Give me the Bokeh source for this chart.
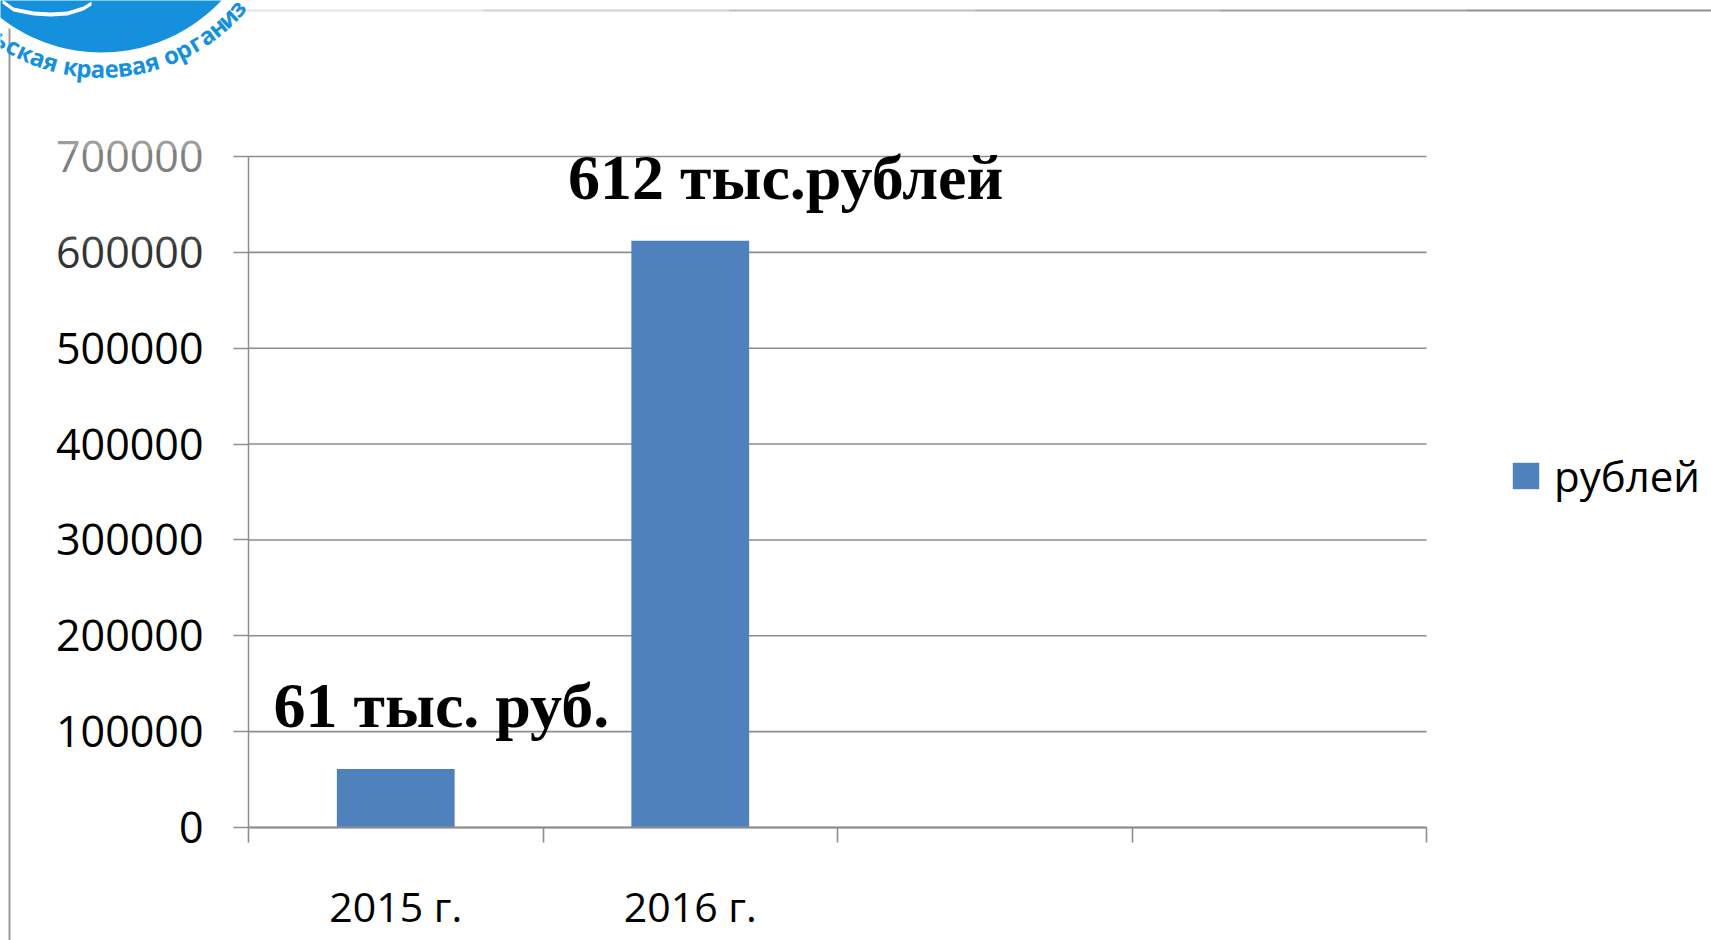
import numpy as np
from bokeh.plotting import figure
from bokeh.models import (FixedTicker, Legend, LegendItem, Label, PolyAnnotation,
                          ColumnDataSource, BasicTickFormatter, Range1d)
from bokeh.core.properties import value
from bokeh.embed import file_html
from bokeh.resources import INLINE

# ---- data ----
categories = ["2015 г.", "2016 г."]
empty_slots = ["", ""]
values = [61000, 612000]
value_labels = ["61 тыс. руб.", "612 тыс.рублей"]
series_name = "рублей"
y_ticks = [0, 100000, 200000, 300000, 400000, 500000, 600000, 700000]
logo_text = "льская краевая организация"

# ---- layout constants (page pixels) ----
W, H = 1711, 940
PX0, PX1 = 248, 1426        # plot area left / right
PY_TOP, PY_ZERO = 156, 827  # plot area top / bottom

BAR_COLOR = "#4F81BD"
GRID = "#8e8e8e"

all_slots = categories + empty_slots
n_slots = len(all_slots)

ux = n_slots / (PX1 - PX0)                              # data units per px (x)
uy = (y_ticks[-1] - y_ticks[0]) / (PY_ZERO - PY_TOP)    # data units per px (y)
x_range = Range1d(-PX0 * ux, (W - PX0) * ux)
y_range = Range1d(y_ticks[0] - (H - PY_ZERO) * uy, y_ticks[0] + PY_ZERO * uy)

p = figure(width=W, height=H, output_backend="svg", toolbar_location=None,
           x_range=x_range, y_range=y_range,
           min_border=0, min_border_left=0, min_border_right=0,
           min_border_top=0, min_border_bottom=0,
           background_fill_color="white", border_fill_color="white")
p.title.visible = False
p.title_location = None
p.outline_line_color = None
p.xgrid.visible = False
p.ygrid.visible = False

# horizontal gridlines over the plot area
p.segment(x0=[0] * len(y_ticks), x1=[n_slots] * len(y_ticks), y0=y_ticks, y1=y_ticks,
          line_color=GRID, line_width=1.6)

src = ColumnDataSource(dict(x=[i + 0.5 for i in range(len(categories))],
                            top=values, cat=categories))
bars = p.vbar(x="x", top="top", width=0.4, bottom=0, source=src,
              fill_color=BAR_COLOR, line_color=None)

# value annotations
lab_src = ColumnDataSource(dict(x=[i + 0.085 for i in range(len(values))],
                                y=[v + 66500 for v in values],
                                text=value_labels))
p.text(x="x", y="y", text="text", source=lab_src,
       text_font=value("Liberation Serif"), text_font_style="bold",
       text_font_size="64px", text_color="black",
       text_align="left", text_baseline="alphabetic")

# ---- axes ----
xa = p.xaxis[0]
xa.fixed_location = y_ticks[0]
xa.bounds = (0, n_slots)
xa.ticker = FixedTicker(ticks=[i + 0.5 for i in range(n_slots)],
                        minor_ticks=list(range(n_slots + 1)))
xa.major_label_overrides = {i + 0.5: lab for i, lab in enumerate(all_slots)}
xa.major_tick_out = 0
xa.major_tick_in = 0
xa.minor_tick_out = 15
xa.minor_tick_in = 0
xa.minor_tick_line_color = GRID
xa.minor_tick_line_width = 1.6
xa.axis_line_color = GRID
xa.axis_line_width = 2
xa.major_label_text_font = "Open Sans"
xa.major_label_text_font_size = "41px"
xa.major_label_text_color = "black"
xa.major_label_standoff = 35

ya = p.yaxis[0]
ya.fixed_location = 0
ya.bounds = (y_ticks[0], y_ticks[-1])
ya.ticker = FixedTicker(ticks=y_ticks)
ya.formatter = BasicTickFormatter(use_scientific=False)
ya.major_tick_out = 15
ya.major_tick_in = 0
ya.minor_tick_line_color = None
ya.major_tick_line_color = GRID
ya.major_tick_line_width = 1.6
ya.axis_line_color = GRID
ya.axis_line_width = 1.5
ya.major_label_text_font = "Open Sans"
ya.major_label_text_font_size = "43px"
ya.major_label_text_color = "black"
ya.major_label_standoff = 30

# ---- legend ----
legend = Legend(items=[LegendItem(label=series_name, renderers=[bars])],
                location=(1509, H - 504), orientation="vertical",
                border_line_color=None, background_fill_alpha=0,
                padding=0, margin=0, glyph_width=33, glyph_height=33,
                label_height=33, label_standoff=12,
                label_text_font="Open Sans", label_text_font_size="42px",
                label_text_color="black", label_text_baseline="middle")
p.add_layout(legend, "center")


# ---- decorative slide elements (screen px, frame == canvas) ----
def sy(Y):
    return H - Y


def poly(xs, ys, color, alpha=1.0, **kw):
    p.add_layout(PolyAnnotation(xs=[float(v) for v in xs], ys=[float(v) for v in ys],
                                xs_units="screen", ys_units="screen",
                                fill_color=color, fill_alpha=alpha,
                                line_color=None, **kw))


# fading of the upper-left tick labels (slide overlay)
for (y0, y1, a) in [(120, 150, 0.62), (150, 180, 0.5), (215, 245, 0.28), (245, 275, 0.2)]:
    poly([40, 215, 215, 40], [sy(y0), sy(y0), sy(y1), sy(y1)], "white", a)

grays = ["#e4e4e4", "#d2d2d2", "#c0c0c0", "#afafaf", "#9e9e9e", "#909090"]
xs_edges = np.linspace(237, W, len(grays) + 1)
for i, g in enumerate(grays):
    x0, x1 = xs_edges[i], xs_edges[i + 1]
    poly([x0, x1, x1, x0], [sy(9), sy(9), sy(11), sy(11)], g)
poly([8, 10, 10, 8], [sy(28), sy(28), sy(H + 5), sy(H + 5)], "#9a9a9a")

# logo circle
LOGO_BLUE = "#1490dc"
cx, cy, r = 101, -112, 164
th = np.linspace(0, 2 * np.pi, 160)
poly(cx + r * np.sin(th), sy(cy + r * np.cos(th)), LOGO_BLUE)

# white wave inside logo
wave = [(2, -1), (13, 7), (33, 11), (50, 12), (67, 11), (83, 6), (91, 1)]
wx = [a for a, b in wave] + [a for a, b in wave[::-1]]
wy = [sy(b) for a, b in wave] + [sy(b + 4) for a, b in wave[::-1]]
poly(wx, wy, "white")

# curved logo text
R = 180
adv = [6.5 if ch == " " else 13.6 for ch in logo_text]
phi_start = -0.585 - 13.6 / R
pos = 0.0
for k, ch in enumerate(logo_text):
    if k > 0:
        pos += (adv[k - 1] + adv[k]) / 2
    phi = phi_start + pos / R
    X = cx + R * np.sin(phi)
    Y = cy + R * np.cos(phi)
    if ch == " " or Y < 2 or X < 0:
        continue
    p.add_layout(Label(x=float(X), y=float(sy(Y)), x_units="screen", y_units="screen",
                       text=ch, angle=float(phi), angle_units="rad",
                       text_align="center", text_baseline="middle",
                       text_font="Open Sans", text_font_size="24px",
                       text_font_style="bold", text_color=LOGO_BLUE))

open("out.html", "w").write(file_html(p, INLINE))
